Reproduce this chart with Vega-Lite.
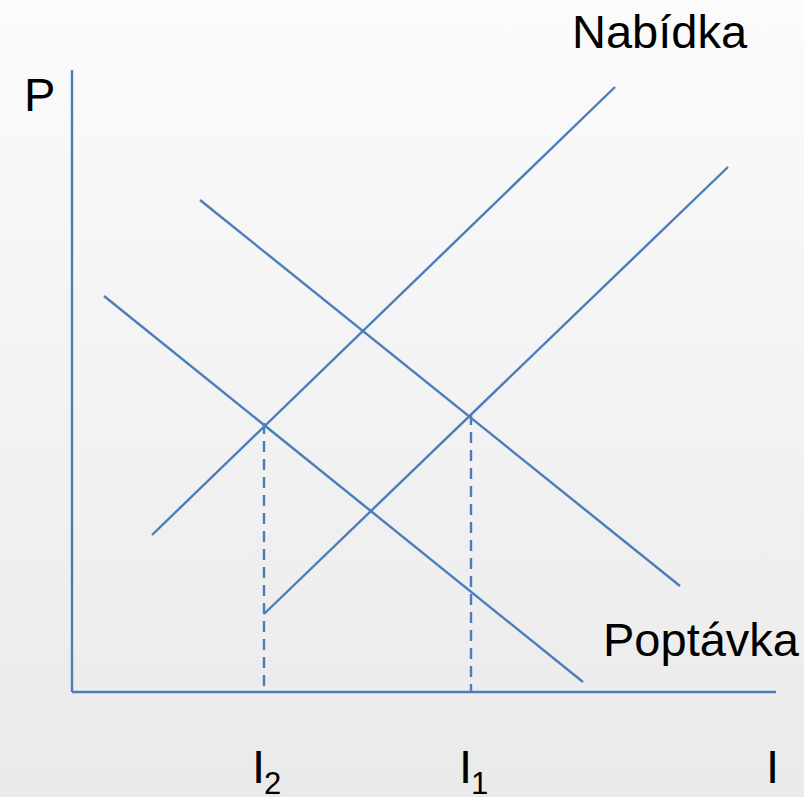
{
  "$schema": "https://vega.github.io/schema/vega-lite/v6.json",
  "width": 804,
  "height": 797,
  "padding": 0,
  "autosize": {"type": "none"},
  "background": "#f3f3f3",
  "config": {"view": {"stroke": null}},
  "layer": [
    {
      "data": {"values": [{"x0": 0, "x1": 804, "y0": 0, "y1": 797}]},
      "mark": {
        "type": "rect",
        "color": {
          "gradient": "linear", "x1": 0, "y1": 0, "x2": 0, "y2": 1,
          "stops": [{"offset": 0, "color": "#fbfbfb"}, {"offset": 1, "color": "#eaeaea"}]
        }
      },
      "encoding": {
        "x": {"field": "x0", "type": "quantitative", "scale": {"domain": [0, 804]}, "axis": null},
        "x2": {"field": "x1"},
        "y": {"field": "y0", "type": "quantitative", "scale": {"domain": [0, 797], "reverse": true}, "axis": null},
        "y2": {"field": "y1"}
      }
    },
    {
      "data": {"values": [
        {"name": "osa P", "x0": 72, "y0": 70, "x1": 72, "y1": 692},
        {"name": "osa I", "x0": 72, "y0": 692, "x1": 776, "y1": 692},
        {"name": "Nabídka 1", "x0": 152, "y0": 535, "x1": 615, "y1": 87},
        {"name": "Nabídka 2", "x0": 264, "y0": 614, "x1": 728, "y1": 167},
        {"name": "Poptávka 1", "x0": 104, "y0": 296, "x1": 583, "y1": 682},
        {"name": "Poptávka 2", "x0": 200, "y0": 200, "x1": 680, "y1": 586}
      ]},
      "mark": {"type": "rule", "color": "#4a7ebb", "strokeWidth": 2.4},
      "encoding": {
        "x": {"field": "x0", "type": "quantitative", "scale": {"domain": [0, 804]}, "axis": null},
        "x2": {"field": "x1"},
        "y": {"field": "y0", "type": "quantitative", "scale": {"domain": [0, 797], "reverse": true}, "axis": null},
        "y2": {"field": "y1"}
      }
    },
    {
      "data": {"values": [
        {"name": "I2", "x0": 264, "y0": 423, "x1": 264, "y1": 692},
        {"name": "I1", "x0": 471, "y0": 414, "x1": 471, "y1": 692}
      ]},
      "mark": {"type": "rule", "color": "#4a7ebb", "strokeWidth": 2.4, "strokeDash": [11, 7]},
      "encoding": {
        "x": {"field": "x0", "type": "quantitative", "scale": {"domain": [0, 804]}, "axis": null},
        "x2": {"field": "x1"},
        "y": {"field": "y0", "type": "quantitative", "scale": {"domain": [0, 797], "reverse": true}, "axis": null},
        "y2": {"field": "y1"}
      }
    },
    {
      "data": {"values": [
        {"label": "Nabídka", "x": 572, "y": 48},
        {"label": "Poptávka", "x": 603, "y": 656},
        {"label": "P", "x": 24, "y": 111},
        {"label": "I", "x": 252, "y": 783},
        {"label": "I", "x": 459, "y": 783},
        {"label": "I", "x": 766, "y": 783}
      ]},
      "mark": {"type": "text", "align": "left", "baseline": "alphabetic", "font": "Liberation Sans", "fontSize": 47, "color": "#000000"},
      "encoding": {
        "x": {"field": "x", "type": "quantitative", "scale": {"domain": [0, 804]}, "axis": null},
        "y": {"field": "y", "type": "quantitative", "scale": {"domain": [0, 797], "reverse": true}, "axis": null},
        "text": {"field": "label"}
      }
    },
    {
      "data": {"values": [
        {"label": "2", "x": 264, "y": 794},
        {"label": "1", "x": 471, "y": 794}
      ]},
      "mark": {"type": "text", "align": "left", "baseline": "alphabetic", "font": "Liberation Sans", "fontSize": 31, "color": "#000000"},
      "encoding": {
        "x": {"field": "x", "type": "quantitative", "scale": {"domain": [0, 804]}, "axis": null},
        "y": {"field": "y", "type": "quantitative", "scale": {"domain": [0, 797], "reverse": true}, "axis": null},
        "text": {"field": "label"}
      }
    }
  ]
}
